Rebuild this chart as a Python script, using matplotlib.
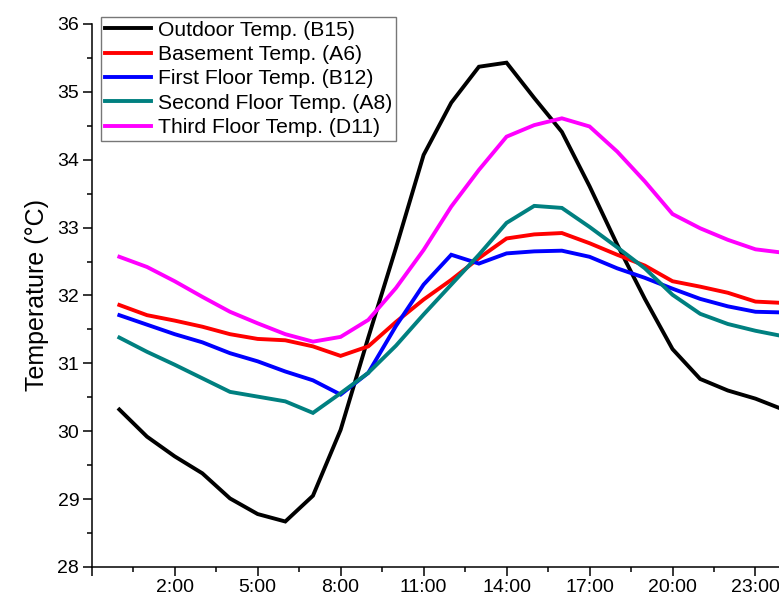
import numpy as np
import matplotlib
matplotlib.use('Agg')
import matplotlib.pyplot as plt

plt.rcParams['font.family'] = ['Liberation Sans', 'DejaVu Sans']

hours = list(range(25))

outdoor = [30.32, 29.92, 29.63, 29.38, 29.01, 28.78, 28.67, 29.05, 30.02, 31.38,
           32.70, 34.07, 34.84, 35.37, 35.43, 34.91, 34.41, 33.61, 32.75, 31.95,
           31.21, 30.77, 30.60, 30.48, 30.32]
basement = [31.86, 31.71, 31.63, 31.54, 31.43, 31.36, 31.34, 31.25, 31.11, 31.25,
            31.61, 31.94, 32.23, 32.55, 32.84, 32.90, 32.92, 32.77, 32.60, 32.44,
            32.21, 32.13, 32.04, 31.91, 31.89]
first_floor = [31.71, 31.57, 31.43, 31.31, 31.15, 31.03, 30.88, 30.75, 30.54, 30.86,
               31.55, 32.16, 32.60, 32.47, 32.62, 32.65, 32.66, 32.57, 32.40, 32.26,
               32.10, 31.95, 31.84, 31.76, 31.75]
second_floor = [31.38, 31.17, 30.98, 30.78, 30.58, 30.51, 30.44, 30.27, 30.56, 30.86,
                31.26, 31.72, 32.16, 32.60, 33.07, 33.32, 33.29, 33.01, 32.71, 32.40,
                32.01, 31.73, 31.58, 31.48, 31.40]
third_floor = [32.57, 32.42, 32.21, 31.98, 31.76, 31.59, 31.43, 31.32, 31.39, 31.64,
               32.11, 32.67, 33.31, 33.85, 34.34, 34.51, 34.61, 34.49, 34.12, 33.68,
               33.20, 32.99, 32.82, 32.68, 32.63]

series = [
    (outdoor, 'Outdoor Temp. (B15)', 'black'),
    (basement, 'Basement Temp. (A6)', '#ff0000'),
    (first_floor, 'First Floor Temp. (B12)', '#0000ff'),
    (second_floor, 'Second Floor Temp. (A8)', '#008080'),
    (third_floor, 'Third Floor Temp. (D11)', '#ff00ff'),
]

xticks = [-1, 2, 5, 8, 11, 14, 17, 20, 23]
xticklabels = ['', '2:00', '5:00', '8:00', '11:00', '14:00', '17:00', '20:00', '23:00']

fig = plt.figure(figsize=(7.79, 6.01), dpi=100)
ax = fig.add_axes([0.1177, 0.0566, 0.8823, 0.9035])

for vals, label, color in series:
    ax.plot(hours, vals, color=color, lw=2.8, label=label, solid_joinstyle='miter')

ax.set_xlim(-1, 23.85)
ax.set_ylim(28, 36)
ax.set_xticks(xticks)
ax.set_xticklabels(xticklabels)
ax.set_xticks(np.arange(0.5, 24, 3), minor=True)
ax.set_yticks(np.arange(28, 36.1, 1))
ax.set_yticks(np.arange(28.5, 36, 1), minor=True)

ax.spines['top'].set_visible(False)
ax.spines['right'].set_visible(False)
ax.spines['left'].set_linewidth(1.1)
ax.spines['bottom'].set_linewidth(1.1)
ax.tick_params(which='major', direction='out', length=6.5, width=1.1,
               labelsize=14, pad=2.5)
ax.tick_params(which='minor', direction='out', length=3.5, width=1.1)

ax.set_ylabel('Temperature (°C)', fontsize=18, labelpad=6)

leg = ax.legend(loc='upper left', bbox_to_anchor=(101 / 779, 1 - 17 / 601),
                bbox_transform=fig.transFigure, fontsize=15.2, frameon=True,
                fancybox=False, edgecolor='#555555', handlelength=2.2,
                handletextpad=0.3, labelspacing=0.25, borderpad=0.18,
                borderaxespad=0)
leg.get_frame().set_linewidth(1.0)

fig.savefig('out.png', dpi=100)
